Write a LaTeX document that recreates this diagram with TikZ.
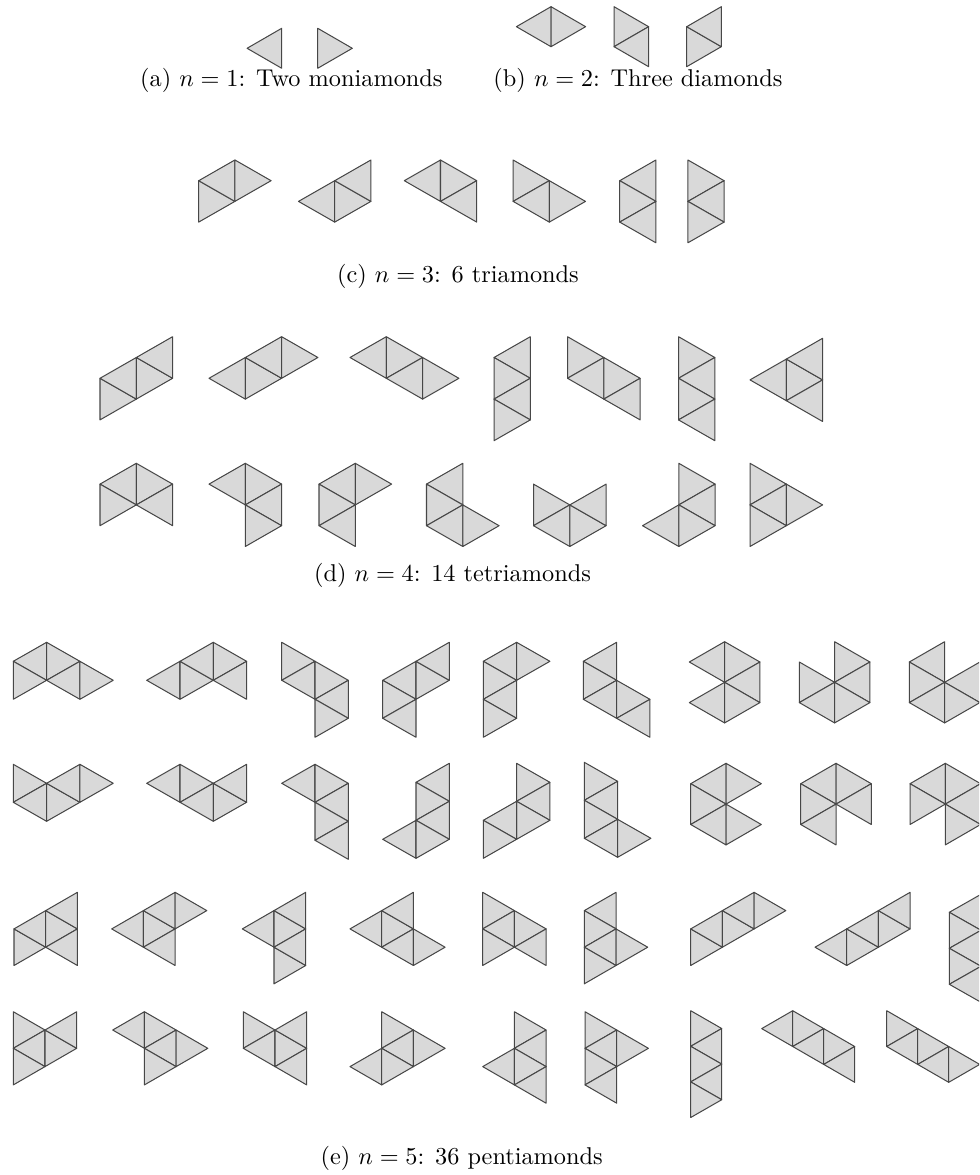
\documentclass[tikz,border=0pt]{standalone}
\tikzset{
  tri/.style={fill=black!15, draw=black!72, line width=0.42pt, line join=round},
  lab/.style={inner sep=0pt, font=\normalsize}
}
% #1,#2 origin (px), #3 column width, #4 half edge, #5 list col/row/dir
\newcommand\pcs[5]{%
  \begin{scope}[shift={(#1,#2)}]
  \foreach \ci/\ri/\di in {#5} {
    \draw[tri] ({\ci*#3},{\ri*#4}) -- ({\ci*#3},{(\ri+2)*#4}) -- ({(\ci+\di)*#3},{(\ri+1)*#4}) -- cycle;
  }
  \end{scope}}
\begin{document}
\begin{tikzpicture}[x=0.4115pt, y=-0.4115pt]
\useasboundingbox (0,0) rectangle (979,1175);
\clip (0,0) rectangle (979,1175);
% (a) moniamonds
\pcs{281.7}{28.3}{34.6}{20}{0/0/-1}
\pcs{317.7}{28.3}{34.6}{20}{0/0/1}
% (b) diamonds
\pcs{551}{6.7}{34.6}{20}{0/0/-1, 0/0/1}
\pcs{614}{6.7}{34.6}{20}{0/0/1, 1/1/-1}
\pcs{686.7}{6.7}{34.6}{20}{0/1/1, 1/0/-1}
\node[lab, anchor=base east] (capa) at (443,87) {(a) $n=1$: Two moniamonds};
\node[lab, anchor=base west] (capb) at (493,87) {(b) $n=2$: Three diamonds};
% (c) triamonds
\pcs{198.7}{160}{36.2}{20.7}{0/1/1, 1/0/-1, 1/0/1}
\pcs{298.5}{160}{36.2}{20.7}{1/1/-1, 1/1/1, 2/0/-1}
\pcs{404.3}{160}{36.2}{20.7}{1/0/-1, 1/0/1, 2/1/-1}
\pcs{513.1}{160}{36.2}{20.7}{0/0/1, 1/1/-1, 1/1/1}
\pcs{619.7}{160}{36.2}{20.7}{1/0/-1, 0/1/1, 1/2/-1}
\pcs{687.9}{160}{36.2}{20.7}{0/0/1, 1/1/-1, 0/2/1}
\node[lab, anchor=base] (capc) at (458,282.7) {(c) $n=3$: 6 triamonds};
% (d) tetriamonds
\pcs{100}{336.7}{36.3}{20.8}{0/2/1, 1/1/-1, 1/1/1, 2/0/-1}
\pcs{209}{336.7}{36.3}{20.8}{1/1/-1, 1/1/1, 2/0/-1, 2/0/1}
\pcs{350}{336.7}{36.3}{20.8}{1/0/-1, 1/0/1, 2/1/-1, 2/1/1}
\pcs{494}{336.7}{36.3}{20.8}{1/0/-1, 0/1/1, 1/2/-1, 0/3/1}
\pcs{567.5}{336.7}{36.3}{20.8}{0/0/1, 1/1/-1, 1/1/1, 2/2/-1}
\pcs{678.5}{336.7}{36.3}{20.8}{0/0/1, 1/1/-1, 0/2/1, 1/3/-1}
\pcs{750}{338.3}{36.3}{20.8}{1/1/-1, 1/1/1, 2/0/-1, 2/2/-1}
\pcs{100}{463.3}{36.3}{20.8}{1/0/-1, 1/0/1, 0/1/1, 2/1/-1}
\pcs{209}{463.3}{36.3}{20.8}{1/0/-1, 1/0/1, 2/1/-1, 1/2/1}
\pcs{319}{463.3}{36.3}{20.8}{1/0/-1, 1/0/1, 0/1/1, 1/2/-1}
\pcs{426.5}{463.3}{36.3}{20.8}{1/0/-1, 0/1/1, 1/2/-1, 1/2/1}
\pcs{533.5}{463.3}{36.3}{20.8}{0/1/1, 1/2/-1, 1/2/1, 2/1/-1}
\pcs{642.5}{463.3}{36.3}{20.8}{1/0/1, 2/1/-1, 1/2/-1, 1/2/1}
\pcs{750}{463.3}{36.3}{20.8}{0/0/1, 1/1/-1, 0/2/1, 1/1/1}
\node[lab, anchor=base] (capd) at (452.5,581) {(d) $n=4$: 14 tetriamonds};
% (e) pentiamonds, row 1
\pcs{13.3}{642.3}{33.3}{19}{1/0/-1, 1/0/1, 0/1/1, 2/1/-1, 2/1/1}
\pcs{146.7}{642.3}{33.3}{19}{1/1/-1, 1/1/1, 2/0/-1, 2/0/1, 3/1/-1}
\pcs{281.7}{642.3}{33.3}{19}{0/0/1, 1/1/-1, 1/1/1, 2/2/-1, 1/3/1}
\pcs{382.7}{642.3}{33.3}{19}{1/1/-1, 1/1/1, 2/0/-1, 0/2/1, 1/3/-1}
\pcs{483.3}{642.3}{33.3}{19}{1/0/-1, 1/0/1, 0/1/1, 1/2/-1, 0/3/1}
\pcs{583.3}{642.3}{33.3}{19}{1/0/-1, 0/1/1, 1/2/-1, 1/2/1, 2/3/-1}
\pcs{689.3}{641.7}{35.3}{20.3}{1/0/-1, 1/0/1, 2/1/-1, 1/2/-1, 1/2/1}
\pcs{799.3}{641.7}{35.3}{20.3}{1/0/1, 0/1/1, 2/1/-1, 1/2/-1, 1/2/1}
\pcs{909.3}{641.7}{35.3}{20.3}{1/0/-1, 0/1/1, 2/1/-1, 1/2/-1, 1/2/1}
% row 2
\pcs{13.3}{764.3}{33.3}{19}{0/0/1, 1/1/-1, 1/1/1, 2/0/-1, 2/0/1}
\pcs{146.7}{764.3}{33.3}{19}{1/0/-1, 1/0/1, 2/1/-1, 2/1/1, 3/0/-1}
\pcs{281.7}{764.3}{33.3}{19}{1/0/-1, 1/0/1, 2/1/-1, 1/2/1, 2/3/-1}
\pcs{382.7}{763.3}{33.3}{19}{2/0/-1, 1/1/1, 2/2/-1, 1/3/-1, 1/3/1}
\pcs{483.3}{763.3}{33.3}{19}{1/0/1, 2/1/-1, 1/2/1, 1/2/-1, 0/3/1}
\pcs{584.3}{762.3}{33.3}{19}{0/0/1, 1/1/-1, 0/2/1, 1/3/-1, 1/3/1}
\pcs{690.7}{763.3}{35.3}{20.4}{1/0/-1, 1/0/1, 0/1/1, 1/2/-1, 1/2/1}
\pcs{800.7}{763.3}{35.3}{20.4}{1/0/-1, 1/0/1, 0/1/1, 2/1/-1, 1/2/-1}
\pcs{910}{763.3}{35.3}{20.4}{1/0/-1, 1/0/1, 0/1/1, 2/1/-1, 1/2/1}
% row 3
\pcs{14}{892.3}{31.7}{18.3}{0/2/1, 1/1/-1, 1/1/1, 2/0/-1, 2/2/-1}
\pcs{111.7}{892.3}{31.7}{18.3}{1/1/-1, 1/1/1, 2/0/-1, 2/0/1, 2/2/-1}
\pcs{242.3}{892.3}{31.7}{18.3}{1/1/-1, 1/1/1, 2/0/-1, 1/3/1, 2/2/-1}
\pcs{350}{892.3}{31.7}{18.3}{1/1/-1, 1/1/1, 2/0/-1, 2/2/-1, 2/2/1}
\pcs{482.7}{892.3}{31.7}{18.3}{0/0/1, 1/1/-1, 0/2/1, 1/1/1, 2/2/-1}
\pcs{584.3}{892.3}{31.7}{18.3}{1/0/-1, 0/1/1, 1/2/-1, 1/2/1, 0/3/1}
\pcs{690.7}{892.3}{31.7}{18.3}{0/2/1, 1/1/-1, 1/1/1, 2/0/-1, 2/0/1}
\pcs{815}{892.3}{31.7}{18.3}{1/2/-1, 1/2/1, 2/1/-1, 2/1/1, 3/0/-1}
\pcs{949.3}{894.3}{31.7}{18}{1/0/-1, 0/1/1, 1/2/-1, 0/3/1, 1/4/-1}
% row 4
\pcs{13.3}{1011.7}{31.7}{18.3}{0/0/1, 1/1/-1, 1/1/1, 2/0/-1, 0/2/1}
\pcs{112.7}{1011.7}{31.7}{18.3}{1/0/-1, 1/0/1, 2/1/-1, 2/1/1, 1/2/1}
\pcs{243.3}{1011.7}{31.7}{18.3}{0/0/1, 1/1/-1, 1/1/1, 2/0/-1, 2/2/-1}
\pcs{350}{1011.7}{31.7}{18.3}{1/0/1, 2/1/-1, 2/1/1, 1/2/-1, 1/2/1}
\pcs{482.7}{1011.7}{31.7}{18.3}{1/0/1, 2/1/-1, 1/2/-1, 1/2/1, 2/3/-1}
\pcs{585}{1011.7}{31.7}{18.3}{0/0/1, 1/1/-1, 1/1/1, 0/2/1, 1/3/-1}
\pcs{690.7}{1010.7}{31}{17.8}{0/0/1, 1/1/-1, 0/2/1, 1/3/-1, 0/4/1}
\pcs{761.7}{1010.7}{31}{17.9}{1/0/-1, 1/0/1, 2/1/-1, 2/1/1, 3/2/-1}
\pcs{886.7}{1010.7}{31}{17.9}{0/0/1, 1/1/-1, 1/1/1, 2/2/-1, 2/2/1}
\node[lab, anchor=base] (cape) at (461.7,1164) {(e) $n=5$: 36 pentiamonds};
\end{tikzpicture}
\end{document}
